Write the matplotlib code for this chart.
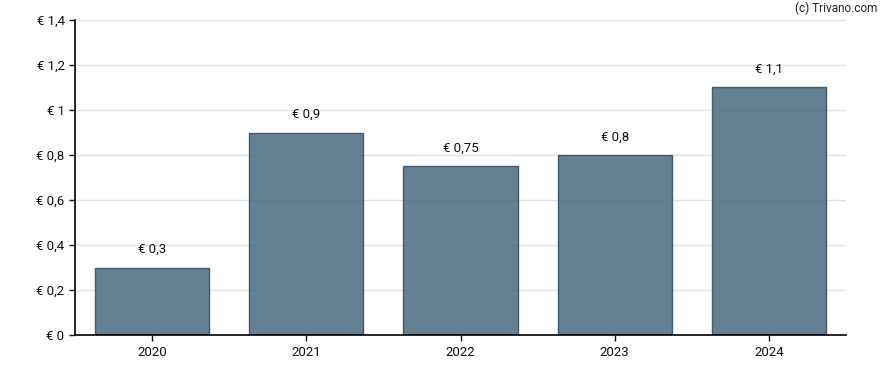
import matplotlib.pyplot as plt
from matplotlib.ticker import FuncFormatter

years = ['2020', '2021', '2022', '2023', '2024']
dividends = [0.3, 0.9, 0.75, 0.8, 1.1]
yticks = [0, 0.2, 0.4, 0.6, 0.8, 1.0, 1.2, 1.4]


def euro(v):
    s = f'{v:.2f}'.rstrip('0').rstrip('.')
    return '€ ' + s.replace('.', ',')


plt.rcParams['font.family'] = ['Roboto', 'DejaVu Sans']

fig = plt.figure(figsize=(8.88, 3.7), dpi=100)
ax = fig.add_axes([75 / 888, 35 / 370, 771 / 888, 315 / 370])

x = range(len(years))
ax.bar(x, dividends, width=0.74, color='#4a6a80', alpha=0.85,
       edgecolor='#2e4a60', linewidth=1, zorder=2)
for i, v in zip(x, dividends):
    ax.text(i, v + 0.05, euro(v), ha='center', va='bottom', fontsize=9.5, color='#111111')

ax.set_xlim(-0.5, len(years) - 0.5)
ax.set_ylim(0, 1.4)
ax.set_xticks(list(x))
ax.set_xticklabels(years)
ax.set_yticks(yticks)
ax.yaxis.set_major_formatter(FuncFormatter(lambda v, p: euro(v)))
ax.tick_params(axis='both', labelsize=9.5, colors='#111111', length=4, width=1, direction='out')
ax.tick_params(axis='x', pad=4)
ax.grid(axis='y', color='#e3e3e3', linewidth=1, zorder=0)
ax.set_axisbelow(True)
for s in ['top', 'right']:
    ax.spines[s].set_visible(False)
for s in ['left', 'bottom']:
    ax.spines[s].set_color('#000000')
    ax.spines[s].set_linewidth(1.2)
    ax.spines[s].set_zorder(3)

fig.text(877 / 888, 1 - 8 / 370, '(c) Trivano.com', ha='right', va='center', fontsize=8.5, color='#222222')

fig.savefig('out.png', dpi=100)
